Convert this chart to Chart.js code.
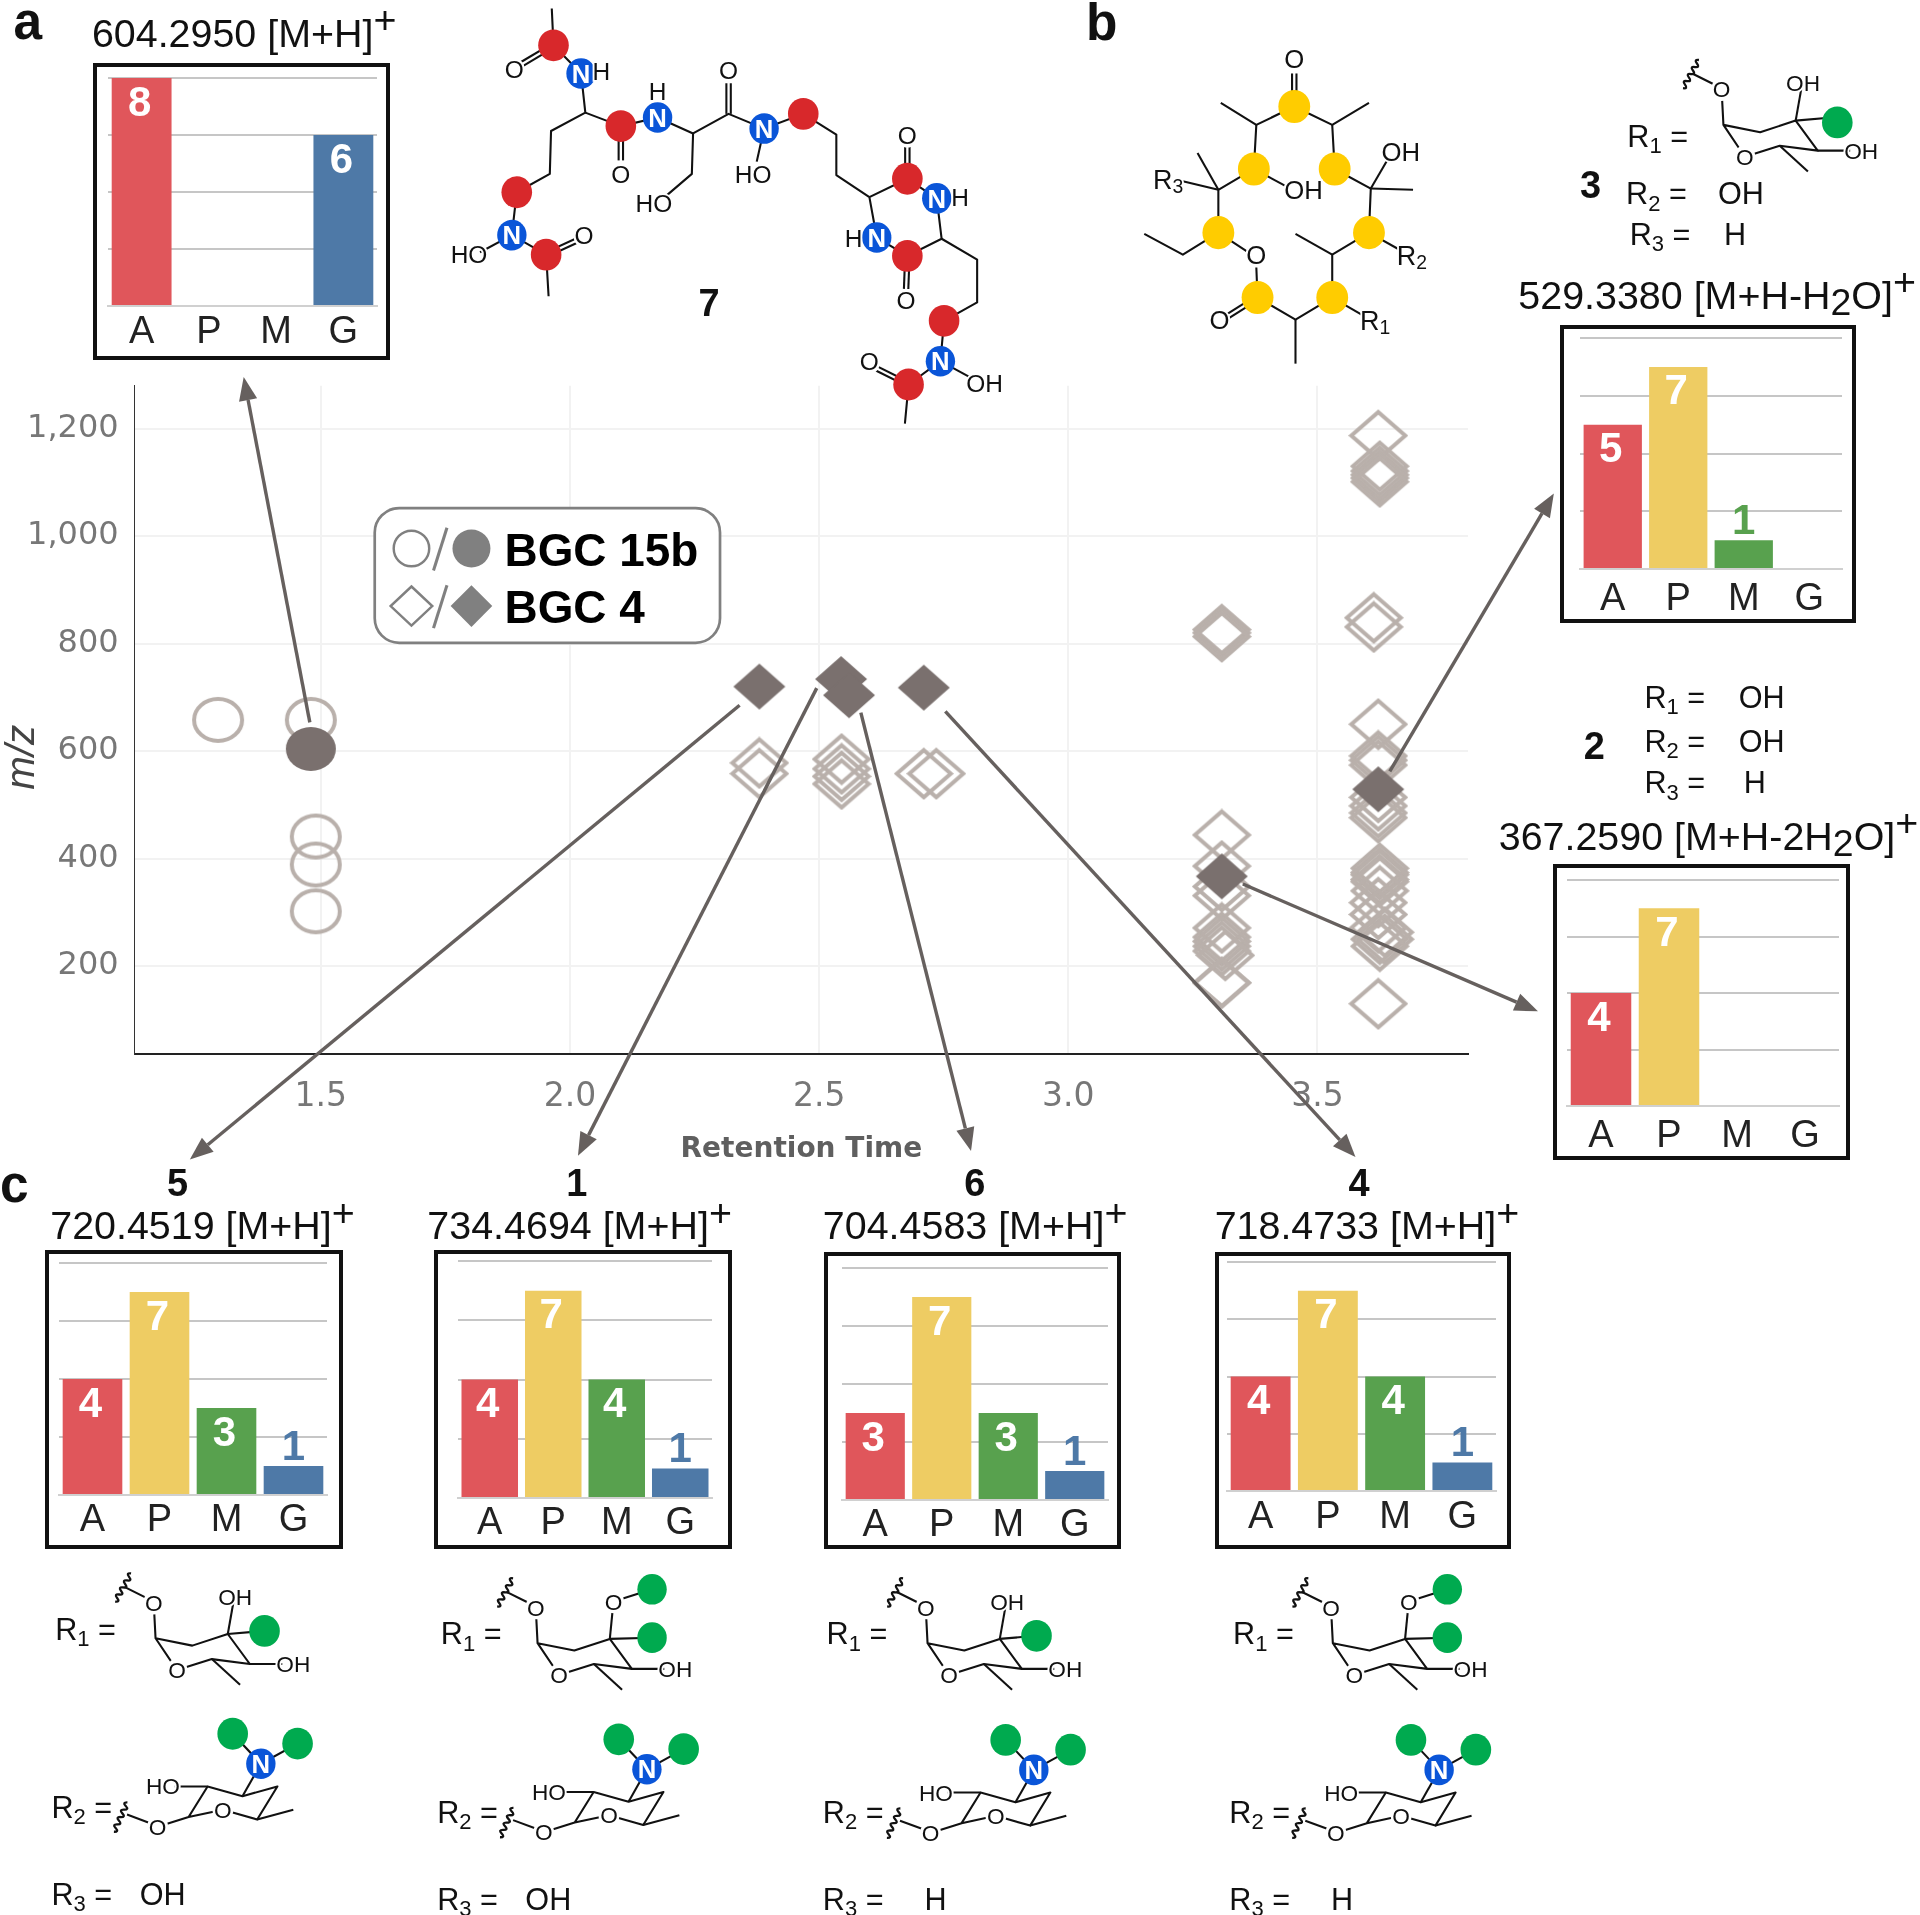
<!DOCTYPE html>
<html>
<head>
<meta charset="utf-8">
<title>BGC retention time map</title>
<script src="https://cdn.jsdelivr.net/npm/chart.js@4"></script>
<style>
  html, body { margin: 0; padding: 0; background: #fff; }
  #page { position: relative; width: 1920px; height: 1915px; overflow: hidden; }
  #main { position: absolute; left: 0; top: 368px; }
  #overlay { position: absolute; left: 0; top: 0; }
  .panel { position: absolute; box-sizing: border-box; border: 4px solid #111; background: #fff; }
  .panel canvas { position: absolute; left: -4px; top: -4px; }
</style>
</head>
<body>
<div id="page">
  <canvas id="main" width="1490" height="802"></canvas>
  <div id="panels"></div>
  <svg id="overlay" width="1920" height="1915" viewBox="0 0 1568 1564"></svg>
</div>
<script>
// scatter data, retention time / m/z
const openCircleRt = [1.294, 1.48, 1.49, 1.49, 1.49];
const openCircleMz = [658, 658, 441, 389, 302];
const filledCircleRt = [1.48];
const filledCircleMz = [604];

const openDiamondRt = [
  2.38, 2.38,
  2.545, 2.545, 2.545, 2.545,
  2.71, 2.735,
  3.308, 3.308, 3.308,
  3.308, 3.308, 3.308, 3.308, 3.308, 3.308, 3.308, 3.308, 3.308, 3.315, 3.308, 3.308,
  3.622, 3.625, 3.625, 3.625, 3.625, 3.625,
  3.613, 3.613,
  3.622, 3.622, 3.622, 3.622, 3.622, 3.622, 3.622, 3.622,
  3.625, 3.625, 3.625, 3.625, 3.625, 3.625, 3.622, 3.622, 3.622, 3.635, 3.625, 3.635, 3.625, 3.622
];
const openDiamondMz = [
  578, 558,
  585, 567, 553, 539,
  558, 558,
  826, 820, 813,
  444, 386, 348, 331, 271, 254, 246, 237, 228, 220, 169, 169,
  1187, 1130, 1121, 1114, 1108, 1101,
  848, 831,
  650, 591, 583, 574, 514, 498, 485, 476,
  382, 374, 370, 361, 357, 340, 318, 296, 271, 263, 250, 250, 237, 130
];
const filledDiamondRt = [2.38, 2.544, 2.56, 2.71, 3.622, 3.308];
const filledDiamondMz = [720, 734, 704, 718, 529, 367];

const rtTicks = [1.5, 2.0, 2.5, 3.0, 3.5];
const mzTicks = [200, 400, 600, 800, 1000, 1200];

// residue counts for the small bar charts
const residues = ['A', 'P', 'M', 'G'];
const countsSeven = [8, 0, 0, 6];
const countsThree = [5, 7, 1, 0];
const countsTwo = [4, 7, 0, 0];
const countsFive = [4, 7, 3, 1];
const countsOne = [4, 7, 4, 1];
const countsSix = [3, 7, 3, 1];
const countsFour = [4, 7, 4, 1];
const residueColors = ['#e0565b', '#eecc63', '#58a14e', '#4e79a7'];

const faded = '#b9b0ab';
const dark = '#7a706e';

function xy(xs, ys) {
  return xs.map((x, i) => ({ x: x, y: ys[i] }));
}

// slightly wide markers, the reference is stretched a bit
function marker(shape, filled, w, h, color) {
  const c = document.createElement('canvas');
  c.width = w + 6;
  c.height = h + 6;
  const ctx = c.getContext('2d');
  const cx = c.width / 2, cy = c.height / 2;
  ctx.beginPath();
  if (shape === 'circle') {
    ctx.ellipse(cx, cy, w / 2, h / 2, 0, 0, Math.PI * 2);
  } else {
    ctx.moveTo(cx, cy - h / 2);
    ctx.lineTo(cx + w / 2, cy);
    ctx.lineTo(cx, cy + h / 2);
    ctx.lineTo(cx - w / 2, cy);
    ctx.closePath();
  }
  if (filled) {
    ctx.fillStyle = color;
    ctx.fill();
  } else {
    ctx.strokeStyle = color;
    ctx.lineWidth = 4;
    ctx.stroke();
  }
  return c;
}

new Chart(document.getElementById('main').getContext('2d'), {
  type: 'scatter',
  data: {
    datasets: [
      { data: xy(filledDiamondRt, filledDiamondMz), pointStyle: marker('diamond', true, 52, 46, dark), pointRadius: 10 },
      { data: xy(filledCircleRt, filledCircleMz), pointStyle: marker('circle', true, 50, 44, dark), pointRadius: 10 },
      { data: xy(openDiamondRt, openDiamondMz), pointStyle: marker('diamond', false, 54, 47, faded), pointRadius: 10 },
      { data: xy(openCircleRt, openCircleMz), pointStyle: marker('circle', false, 48, 42, faded), pointRadius: 10 }
    ]
  },
  options: {
    responsive: false,
    animation: false,
    layout: { padding: { top: 17.7, right: 22 } },
    plugins: { legend: { display: false }, tooltip: { enabled: false } },
    scales: {
      x: {
        type: 'linear',
        min: 1.1266,
        max: 3.802,
        afterBuildTicks: s => { s.ticks = rtTicks.map(v => ({ value: v })); },
        afterFit: s => { s.height = 115.7; s.paddingLeft = 0; s.paddingRight = 0; },
        grid: { color: '#f2f2f2', lineWidth: 2, drawTicks: false },
        border: { color: '#222', width: 2 },
        ticks: { padding: 23, color: '#777', font: { family: 'DejaVu Sans', size: 33 }, callback: v => v.toFixed(1), maxRotation: 0 },
        title: { display: true, text: 'Retention Time', color: '#5f5f5f', font: { family: 'DejaVu Sans', size: 28, weight: 'bold' }, padding: { top: 0, bottom: 3 } }
      },
      y: {
        type: 'linear',
        min: 35.9,
        max: 1279.8,
        afterBuildTicks: s => { s.ticks = mzTicks.map(v => ({ value: v })); },
        afterFit: s => { s.width = 134.7; s.paddingTop = 0; s.paddingBottom = 0; },
        grid: { color: '#f2f2f2', lineWidth: 2, drawTicks: false },
        border: { color: '#333', width: 1 },
        ticks: { padding: 16, color: '#777', font: { family: 'DejaVu Sans', size: 32 }, callback: v => v.toLocaleString('en-US') }
      }
    }
  }
});

// bar value inside the top of the bar, or above it when the bar is too short
const barValues = {
  id: 'barValues',
  afterDatasetsDraw(chart) {
    const ctx = chart.ctx;
    const ds = chart.data.datasets[0];
    chart.getDatasetMeta(0).data.forEach((bar, i) => {
      const v = ds.data[i];
      if (!v) return;
      ctx.save();
      ctx.font = 'bold 42px "Liberation Sans"';
      ctx.textAlign = 'center';
      if (v === 1) {
        ctx.fillStyle = ds.backgroundColor[i];
        ctx.textBaseline = 'bottom';
        ctx.fillText(v, bar.x, bar.y + 3);
      } else {
        ctx.fillStyle = '#fff';
        ctx.textBaseline = 'top';
        ctx.fillText(v, bar.x - 2, bar.y + 5);
      }
      ctx.restore();
    });
  }
};

function barPanel(values, f, plot, labelPad) {
  const div = document.createElement('div');
  div.className = 'panel';
  div.style.left = f[0] + 'px';
  div.style.top = f[1] + 'px';
  div.style.width = (f[2] - f[0]) + 'px';
  div.style.height = (f[3] - f[1]) + 'px';
  const canvas = document.createElement('canvas');
  const w = f[2] - f[0], h = f[3] - f[1];
  canvas.width = w;
  canvas.height = h;
  div.appendChild(canvas);
  document.getElementById('panels').appendChild(div);
  new Chart(canvas.getContext('2d'), {
    type: 'bar',
    data: {
      labels: residues,
      datasets: [{ data: values, backgroundColor: residueColors, barPercentage: 0.89, categoryPercentage: 1 }]
    },
    plugins: [barValues],
    options: {
      responsive: false,
      animation: false,
      layout: { padding: { left: plot[0] - f[0], right: f[2] - plot[1], top: plot[2] - f[1] } },
      plugins: { legend: { display: false }, tooltip: { enabled: false } },
      scales: {
        x: {
          afterFit: s => { s.height = f[3] - plot[3]; },
          grid: { display: false },
          border: { color: '#d0d0d0', width: 2 },
          ticks: { padding: labelPad, color: '#222', maxRotation: 0, font: { family: 'Liberation Sans', size: 38 } }
        },
        y: {
          min: 0,
          max: 8,
          afterFit: s => { s.width = 0; },
          grid: { color: '#c6c6c6', lineWidth: 2, drawTicks: false },
          border: { display: false },
          ticks: { display: false, stepSize: 2 }
        }
      }
    }
  });
}

// frame [left, top, right, bottom], plot [left, right, top, base]
barPanel(countsSeven, [93, 63, 390, 360], [108, 377, 78, 306], -4);
barPanel(countsThree, [1560, 325, 1856, 623], [1580, 1842, 338, 569], 0);
barPanel(countsTwo, [1553, 864, 1850, 1160], [1567, 1839, 880, 1106], 0);
barPanel(countsFive, [45, 1250, 343, 1549], [59, 327, 1263, 1495], -5);
barPanel(countsOne, [434, 1250, 732, 1549], [458, 712, 1261, 1498], -5);
barPanel(countsSix, [824, 1252, 1121, 1549], [842, 1108, 1268, 1500], -5);
barPanel(countsFour, [1215, 1252, 1511, 1549], [1227, 1496, 1262, 1491], -4);

// everything else is annotation on top, in the 1568 wide coordinates
const svg = document.getElementById('overlay');
const NS = 'http://www.w3.org/2000/svg';

function el(name, attrs, parent) {
  const e = document.createElementNS(NS, name);
  for (const k in attrs) e.setAttribute(k, attrs[k]);
  (parent || svg).appendChild(e);
  return e;
}

// _x_ is subscript, ^x^ is superscript
function text(x, y, str, size, opts) {
  opts = opts || {};
  const t = el('text', {
    x: x, y: y, 'font-size': size,
    'font-family': 'Liberation Sans',
    'font-weight': opts.bold ? 'bold' : 'normal',
    'text-anchor': opts.anchor || 'start',
    fill: opts.fill || '#111'
  });
  if (opts.halo) {
    t.setAttribute('stroke', '#fff');
    t.setAttribute('stroke-width', 3);
    t.setAttribute('paint-order', 'stroke');
  }
  let shift = 0;
  str.split(/(_[^_]+_|\^[^^]+\^)/).forEach(part => {
    if (!part) return;
    const span = el('tspan', {}, t);
    let dy = -shift;
    if (part[0] === '_') {
      shift = size * (opts.sub ? 0.16 : 0.2);
      dy += shift;
      span.setAttribute('font-size', size * (opts.sub || 0.72));
      part = part.slice(1, -1);
    } else if (part[0] === '^') {
      shift = -size * 0.34;
      dy += shift;
      part = part.slice(1, -1);
    } else {
      shift = 0;
    }
    span.setAttribute('dy', dy);
    span.textContent = part;
  });
  return t;
}

function bond(pts, width) {
  el('polyline', {
    points: pts.map(p => p.join(',')).join(' '),
    fill: 'none', stroke: '#111', 'stroke-width': width || 1.7, 'stroke-linejoin': 'round'
  });
}

function dbl(a, b) {
  const dx = b[0] - a[0], dy = b[1] - a[1], l = Math.hypot(dx, dy);
  const nx = -dy / l * 1.8, ny = dx / l * 1.8;
  bond([[a[0] + nx, a[1] + ny], [b[0] + nx, b[1] + ny]]);
  bond([[a[0] - nx, a[1] - ny], [b[0] - nx, b[1] - ny]]);
}

function blob(x, y, color, r, label) {
  el('ellipse', { cx: x, cy: y, rx: r, ry: r + 0.5, fill: color });
  if (label) text(x, y + 7.5, label, 21, { bold: true, anchor: 'middle', fill: '#fff' });
}

function atom(x, y, str, size) {
  // bonds run to the middle of a ring oxygen, so clear that first
  if (str === 'O') el('ellipse', { cx: x, cy: y, rx: 8.5, ry: 9.5, fill: '#fff' });
  text(x, y + 6.5, str, size || 18.5, { anchor: 'middle', halo: true, sub: 0.72 });
}

function wavy(a, b) {
  const n = 8;
  const dx = (b[0] - a[0]) / n, dy = (b[1] - a[1]) / n;
  let d = 'M' + a[0] + ' ' + a[1];
  for (let i = 0; i < n; i++) {
    const s = i % 2 ? -4 : 4;
    const mx = a[0] + dx * (i + 0.5) - dy / Math.hypot(dx, dy) * s;
    const my = a[1] + dy * (i + 0.5) + dx / Math.hypot(dx, dy) * s;
    d += ' Q' + mx + ' ' + my + ' ' + (a[0] + dx * (i + 1)) + ' ' + (a[1] + dy * (i + 1));
  }
  el('path', { d: d, fill: 'none', stroke: '#111', 'stroke-width': 1.9 });
}

const GREEN = '#00aa4f', BLUE = '#0a55d8', RED = '#d8282b', YELLOW = '#ffcc00';

// R1 sugar, (ox, oy) is the top oxygen
function sugarOne(ox, oy, twoGreen, greenDy) {
  const p = (x, y) => [ox + x, oy + y];
  bond([p(-6, -4), p(-24, -13)]);
  wavy(p(-18.5, -24), p(-31.5, -1));
  bond([p(0, 0), p(1.5, 29), p(31.5, 35), p(60.5, 25.5), p(78.5, 50), p(47.5, 46), p(19, 55), p(1.5, 29)]);
  bond([p(47.5, 46), p(70.5, 67)]);
  bond([p(78.5, 50), p(105, 50)]);
  atom(ox, oy, 'O');
  atom(ox + 19, oy + 55, 'O');
  atom(ox + 114, oy + 50, 'OH');
  if (twoGreen) {
    bond([p(60.5, 25.5), p(63.5, -5)]);
    bond([p(63.5, -5), p(95, -15)]);
    bond([p(60.5, 25.5), p(95, 24.5)]);
    atom(ox + 63.5, oy - 5, 'O');
    blob(ox + 95, oy - 15, GREEN, 12);
    blob(ox + 95, oy + 24.5, GREEN, 12);
  } else {
    bond([p(60.5, 25.5), p(65, 0)]);
    bond([p(60.5, 25.5), p(90, 23)]);
    atom(ox + 66.5, oy - 5, 'OH');
    blob(ox + 90.5 + greenDy, oy + 23 + greenDy, GREEN, 12.5);
  }
}

// R2 sugar with the amine, (ox, oy) is the linking oxygen
function sugarTwo(ox, oy) {
  const p = (x, y) => [ox + x, oy + y];
  bond([p(-6, -3), p(-25, -10)]);
  wavy(p(-24.7, -20), p(-35.7, 4));
  bond([p(0, 0), p(25.3, -8), p(53.3, -14), p(81.3, -6), p(97.8, -33), p(69.3, -25), p(40.8, -33), p(25.3, -8)]);
  bond([p(81.3, -6), p(110.8, -14)]);
  bond([p(69.3, -25), p(84.3, -51.5)]);
  bond([p(84.3, -51.5), p(61.3, -76)]);
  bond([p(84.3, -51.5), p(114.3, -68)]);
  bond([p(40.8, -33), p(14, -33)]);
  atom(ox, oy, 'O');
  atom(ox + 53.3, oy - 14, 'O');
  atom(ox + 4.3, oy - 33, 'HO');
  blob(ox + 61.3, oy - 76, GREEN, 12.5);
  blob(ox + 114.3, oy - 68, GREEN, 12.5);
  blob(ox + 84.3, oy - 51.5, BLUE, 12, 'N');
}

// compound 7
bond([[450.6, 7], [452, 37], [474.5, 60], [478, 92], [450, 107], [449, 142], [422, 157], [418, 192], [446, 208], [448, 242]]);
bond([[418, 192], [392, 206]]);
bond([[478, 92], [507, 103], [537, 96], [566, 109], [565, 142], [544, 160]]);
bond([[566, 109], [595, 93], [624, 105], [656, 93], [683, 110], [683, 143], [710, 161], [741, 146], [765, 162], [769, 195], [741, 209], [716, 194], [710, 161]]);
bond([[624, 105], [618, 132]]);
bond([[769, 195], [798, 212], [798, 247], [771, 262], [768, 295], [742, 314], [739, 346]]);
bond([[768, 295], [792, 308]]);
dbl([452, 37], [425, 53]);
dbl([446, 208], [472, 196]);
dbl([507, 103], [507, 131]);
dbl([595, 93], [595, 68]);
dbl([741, 146], [741, 120]);
dbl([741, 209], [740, 236]);
dbl([742, 314], [714, 300]);
[[452, 37], [507, 103], [656, 93], [741, 146], [741, 209], [771, 262], [742, 314], [422, 157], [446, 208]].forEach(c => blob(c[0], c[1], RED, 12.5));
[[474.5, 60], [537, 96], [624, 105], [765, 162], [716, 194], [768, 295], [418, 192]].forEach(c => blob(c[0], c[1], BLUE, 12, 'N'));
atom(420, 57, 'O', 20);
atom(491, 59, 'H', 20);
atom(477, 193, 'O', 20);
atom(383, 208, 'HO', 20);
atom(507, 143, 'O', 20);
atom(537, 75, 'H', 20);
atom(534, 167, 'HO', 20);
atom(595, 58, 'O', 20);
atom(615, 143, 'HO', 20);
atom(741, 111, 'O', 20);
atom(784, 162, 'H', 20);
atom(697, 195, 'H', 20);
atom(740, 246, 'O', 20);
atom(710, 296, 'O', 20);
atom(804, 314, 'OH', 20);
text(579, 258, '7', 31, { bold: true, anchor: 'middle' });

// macrolide core
dbl([1057, 87], [1057, 60]);
bond([[997, 84], [1026, 102], [1057, 87], [1088, 102], [1118, 84]]);
bond([[1026, 102], [1024, 138], [995, 155], [995, 190], [1018, 205]]);
bond([[1088, 102], [1090, 138], [1119.5, 154], [1118, 190], [1088, 208], [1088, 243], [1058, 261], [1027, 243], [1026, 218]]);
bond([[995, 155], [978, 125]]);
bond([[995, 155], [966, 148]]);
bond([[1024, 138], [1052, 153]]);
bond([[1119.5, 154], [1134, 129]]);
bond([[1119.5, 154], [1154, 155]]);
bond([[995, 190], [966, 208], [934.5, 191]]);
bond([[1118, 190], [1143, 204]]);
bond([[1088, 208], [1058, 191]]);
bond([[1088, 243], [1112, 257]]);
bond([[1058, 261], [1058, 297]]);
dbl([1027, 243], [1003, 258]);
[[1057, 87], [1024, 138], [1090, 138], [995, 190], [1118, 190], [1027, 243], [1088, 243]].forEach(c => blob(c[0], c[1], YELLOW, 13));
atom(1057, 49, 'O', 21);
atom(1026, 209, 'O', 21);
atom(996, 262, 'O', 21);
atom(1064.5, 156, 'OH', 21);
atom(1144, 125, 'OH', 21);
atom(954, 148, 'R_3_', 22);
atom(1153, 210, 'R_2_', 22);
atom(1123, 263, 'R_1_', 22);

// panel letters
text(11, 32, 'a', 42, { bold: true });
text(887, 33, 'b', 42, { bold: true });
text(0, 982, 'c', 42, { bold: true });

// bar chart captions
const capOpts = { sub: 0.95 };
const cap = 32.2;
text(75, 38, '604.2950 [M+H]^+^', cap, capOpts);
text(1240, 252, '529.3380 [M+H-H_2_O]^+^', cap, capOpts);
text(1224, 694, '367.2590 [M+H-2H_2_O]^+^', cap, capOpts);
text(41, 1012, '720.4519 [M+H]^+^', cap, capOpts);
text(349, 1012, '734.4694 [M+H]^+^', cap, capOpts);
text(672, 1012, '704.4583 [M+H]^+^', cap, capOpts);
text(992, 1012, '718.4733 [M+H]^+^', cap, capOpts);
text(145, 977, '5', 31, { bold: true, anchor: 'middle' });
text(471, 977, '1', 31, { bold: true, anchor: 'middle' });
text(796, 977, '6', 31, { bold: true, anchor: 'middle' });
text(1110, 977, '4', 31, { bold: true, anchor: 'middle' });

// compound 3 and 2 substituents
text(1299, 162, '3', 31, { bold: true, anchor: 'middle' });
text(1329, 120, 'R_1_ =', 25);
text(1328, 167, 'R_2_ =', 25);
text(1403, 167, 'OH', 25);
text(1331, 200, 'R_3_ =', 25);
text(1408, 200, 'H', 25);
sugarOne(1406, 73, false, 4);

text(1302, 620, '2', 31, { bold: true, anchor: 'middle' });
text(1343, 578, 'R_1_ =', 25);
text(1420, 578, 'OH', 25);
text(1343, 614, 'R_2_ =', 25);
text(1420, 614, 'OH', 25);
text(1343, 648, 'R_3_ =', 25);
text(1424, 648, 'H', 25);

// compound columns at the bottom
function column(labelX, rowOne, rowTwo, rowThree, sugarX, linkX, twoGreen, r3, r3X, sugarY, linkY) {
  text(labelX + 3, rowOne, 'R_1_ =', 25);
  text(labelX, rowTwo, 'R_2_ =', 25);
  text(labelX, rowThree, 'R_3_ =', 25);
  text(r3X, rowThree, r3, 25);
  sugarOne(sugarX, sugarY, twoGreen, 0);
  sugarTwo(linkX, linkY);
}
column(42, 1339, 1485, 1556, 125.5, 128.7, false, 'OH', 114, 1309, 1492);
column(357, 1343, 1489, 1560, 437.5, 444, true, 'OH', 429, 1313, 1496.5);
column(672, 1343, 1489, 1560, 756, 760, false, 'H', 755, 1313, 1497);
column(1004, 1343, 1489, 1560, 1087, 1091, true, 'H', 1087, 1313, 1497);

// y axis title
text(0, 0, 'm/z', 33, { fill: '#444' }).setAttribute('transform', 'translate(28,645) rotate(-90)');
svg.lastChild.setAttribute('font-style', 'italic');

// legend
el('rect', { x: 306, y: 415, width: 282, height: 110, rx: 20, fill: '#fff', stroke: '#808080', 'stroke-width': 2.2 });
const lg = '#808080';
el('circle', { cx: 336, cy: 448, r: 14.5, fill: 'none', stroke: lg, 'stroke-width': 2 });
el('circle', { cx: 385, cy: 448, r: 15.5, fill: lg });
el('polygon', { points: '336,479 353,495 336,511 319,495', fill: 'none', stroke: lg, 'stroke-width': 2 });
el('polygon', { points: '385,478 402,495 385,512 368,495', fill: lg });
el('line', { x1: 365, y1: 431, x2: 354, y2: 466, stroke: lg, 'stroke-width': 2.5 });
el('line', { x1: 365, y1: 478, x2: 354, y2: 513, stroke: lg, 'stroke-width': 2.5 });
text(412, 462, 'BGC 15b', 37.5, { bold: true, fill: '#000' });
text(412, 509, 'BGC 4', 37.5, { bold: true, fill: '#000' });

// arrows from the marks to their panels
function arrow(x1, y1, x2, y2) {
  const a = Math.atan2(y2 - y1, x2 - x1);
  const len = 19, wide = 7.5;
  const bx = x2 - Math.cos(a) * len, by = y2 - Math.sin(a) * len;
  el('line', { x1: x1, y1: y1, x2: bx, y2: by, stroke: '#66605e', 'stroke-width': 2.8 });
  el('polygon', {
    points: [x2, y2, bx - Math.sin(a) * wide, by + Math.cos(a) * wide, bx + Math.sin(a) * wide, by - Math.cos(a) * wide].join(','),
    fill: '#66605e'
  });
}
arrow(253, 590, 199, 308);
arrow(604, 576, 155, 947);
arrow(667, 562, 472, 944);
arrow(703, 582, 793, 940);
arrow(772, 581, 1107, 945);
arrow(1135, 630, 1269, 403);
arrow(1015, 722, 1256, 826);
</script>
</body>
</html>
